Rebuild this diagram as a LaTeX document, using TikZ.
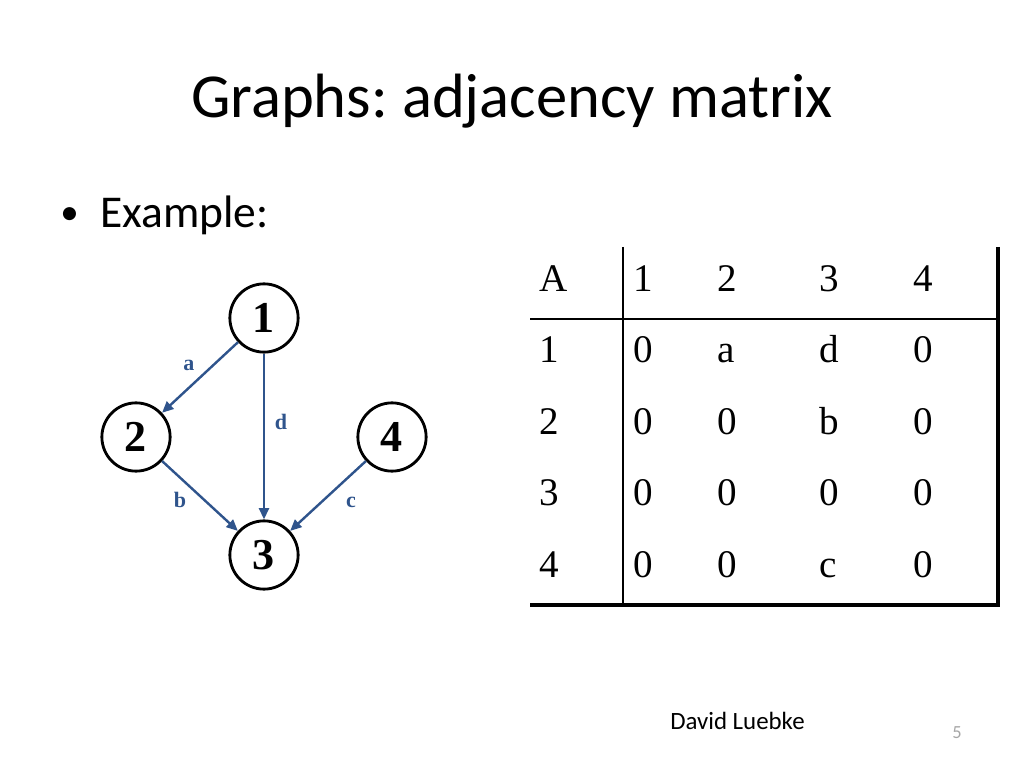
\documentclass[tikz,border=0pt]{standalone}
\usepackage{fontspec}
\setmainfont{Liberation Serif}
\newfontfamily\slidefont{Carlito}
\usepackage{tikz}
\usetikzlibrary{arrows.meta}
\definecolor{edgeblue}{RGB}{47,84,140}
\frenchspacing
\tikzset{
  vertex/.style  = {circle, draw=black, line width=2pt, fill=white,
                    minimum size=48pt, inner sep=0pt,
                    font=\fontsize{31}{31}\selectfont\bfseries},
  edgear/.style  = {-{Triangle[length=8pt,width=7pt]}, edgeblue, line width=1.7pt},
  edgelab/.style = {anchor=base, inner sep=0pt, text=edgeblue,
                    font=\fontsize{15.5}{15.5}\selectfont\bfseries},
  cell/.style    = {anchor=base west, inner sep=0pt, font=\fontsize{27.5}{27.5}\selectfont},
  thinrule/.style  = {line width=1.1pt},
  thickrule/.style = {line width=2.3pt}
}

\begin{document}
\begin{tikzpicture}[x=0.703125pt, y=-0.703125pt]
  \useasboundingbox (0,0) rectangle (1024,768);
  % title and bullet
  \node[anchor=base, font=\slidefont\fontsize{44}{44}\selectfont] (title) at (512,118)
        {Graphs: adjacency matrix};
  \node[anchor=base west, inner sep=0pt, font=\slidefont\fontsize{26}{26}\selectfont] (bul) at (60,225) {\textbullet};
  \node[anchor=base west, inner sep=0pt, font=\slidefont\fontsize{32}{32}\selectfont] (ex) at (100,228) {Example:};

  % the graph
  \node[vertex] (v1) at (264,318) {1};
  \node[vertex] (v2) at (136,437) {2};
  \node[vertex] (v4) at (392,437) {4};
  \node[vertex] (v3) at (264,555) {3};
  \draw[edgear] (v1) -- (v2);
  \draw[edgear] (v1) -- (v3);
  \draw[edgear] (v2) -- (v3);
  \draw[edgear] (v4) -- (v3);
  \node[edgelab] (la) at (189,370) {a};
  \node[edgelab] (ld) at (281,429) {d};
  \node[edgelab] (lb) at (180,507) {b};
  \node[edgelab] (lc) at (351,507) {c};

  % the matrix
  \foreach \cells [count=\r] in {{A,1,2,3,4},{1,0,a,d,0},{2,0,0,b,0},{3,0,0,0,0},{4,0,0,c,0}}
    \foreach \v [count=\c] in \cells {
      \pgfmathsetmacro\cx{{539,633,717,819,913}[\c-1]}
      \node[cell] (m\r\c) at (\cx,{291+71.5*(\r-1)}) {\v};
    }
  \draw[thinrule]  (623,247) -- (623,605);
  \draw[thinrule]  (530,319) -- (998,319);
  \draw[thickrule] (530,605) -- (999.5,605);
  \draw[thickrule] (998,247) -- (998,606);

  % footer
  \node[anchor=base west, inner sep=0pt, font=\slidefont\fontsize{17.5}{17.5}\selectfont] (auth) at (670,729) {David Luebke};
  \node[anchor=base, inner sep=0pt, text=gray!70, font=\slidefont\fontsize{13}{13}\selectfont] (pg) at (957,738) {5};
\end{tikzpicture}
\end{document}
